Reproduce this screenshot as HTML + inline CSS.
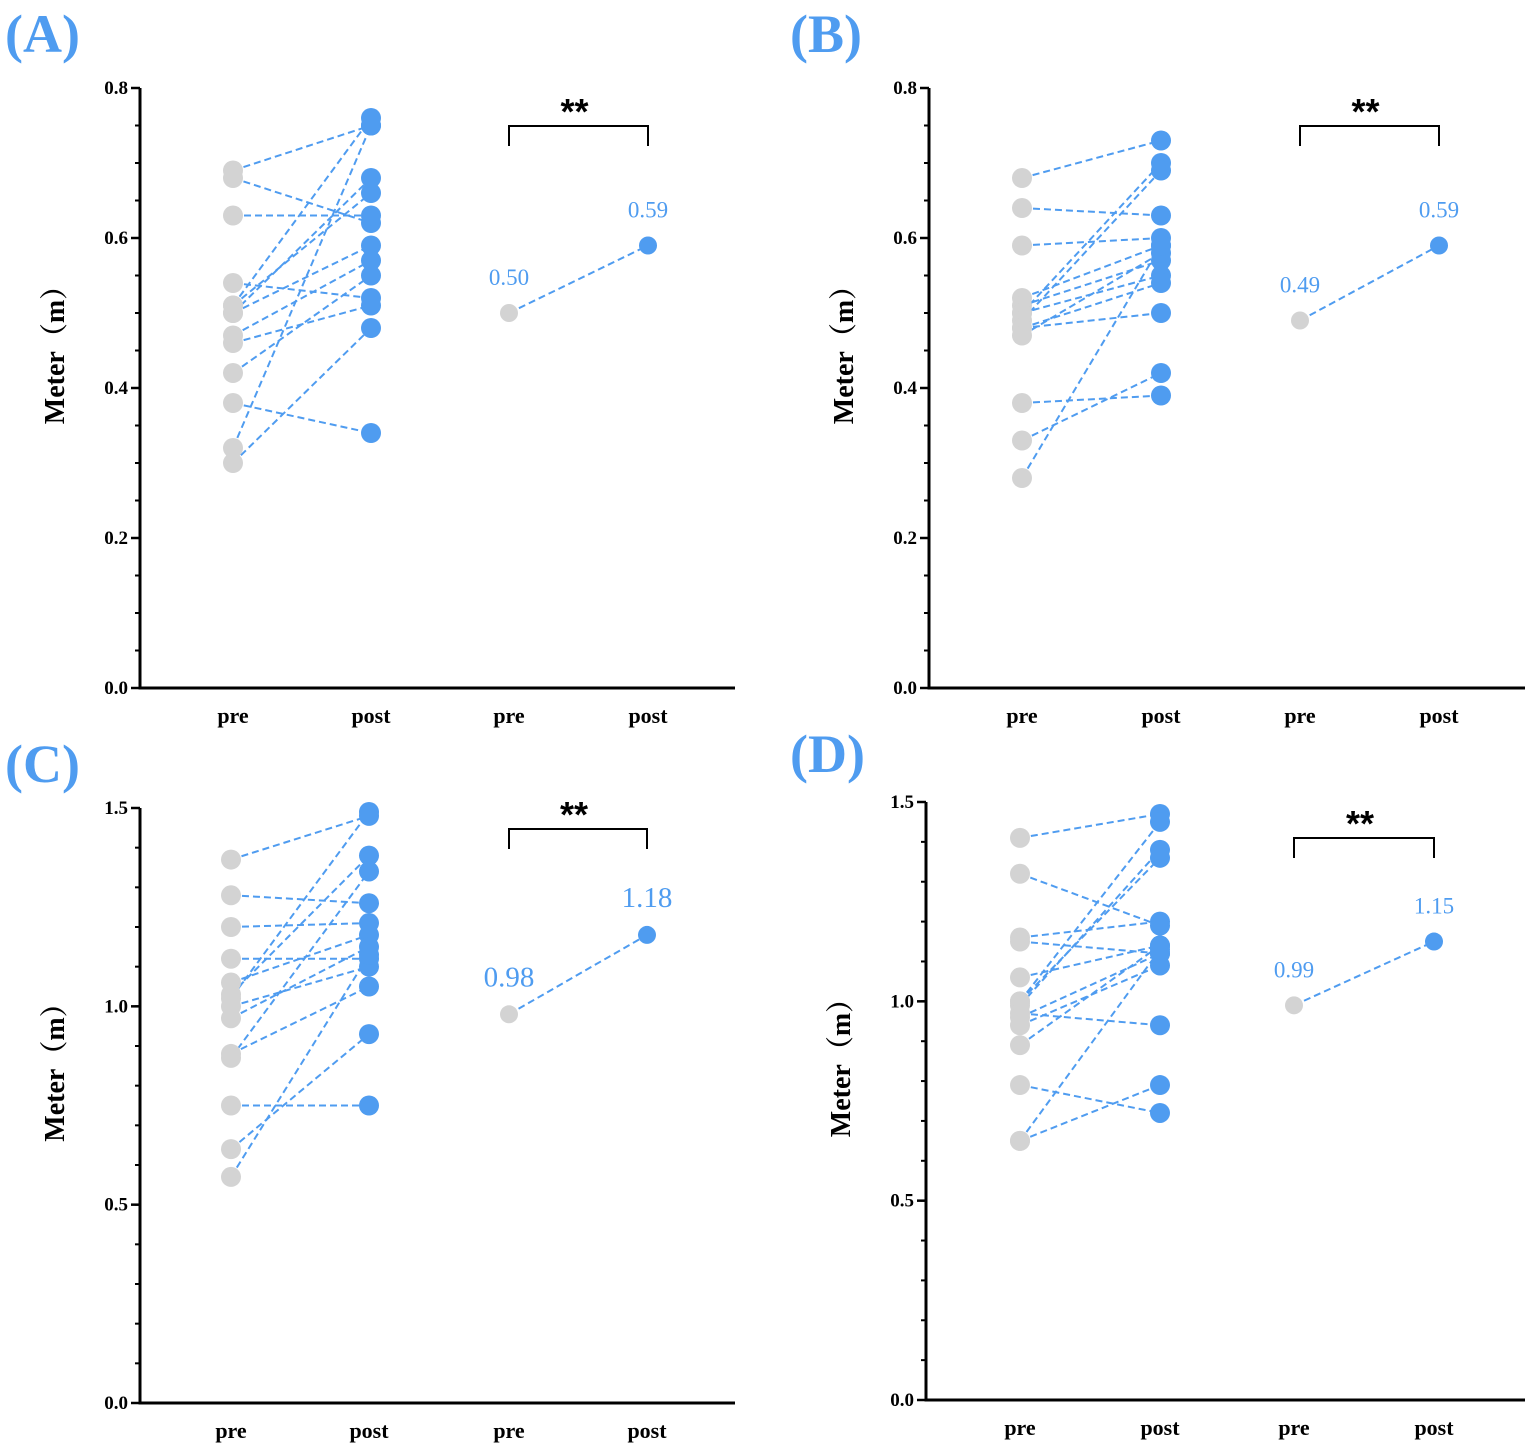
<!DOCTYPE html>
<html><head><meta charset="utf-8">
<style>
html,body{margin:0;padding:0;background:#fff;}
svg{display:block;}
</style></head>
<body>
<svg id="fig" width="1535" height="1450" viewBox="0 0 1535 1450" xmlns="http://www.w3.org/2000/svg"></svg>
<script>
// Panel A data
const preA  = [0.69,0.68,0.63,0.54,0.51,0.51,0.50,0.50,0.47,0.46,0.42,0.38,0.32,0.30];
const postA = [0.75,0.62,0.63,0.52,0.76,0.66,0.68,0.59,0.57,0.51,0.55,0.34,0.75,0.48];
const meanA = [0.50,0.59];
// Panel B data
const preB  = [0.68,0.64,0.59,0.52,0.51,0.50,0.50,0.49,0.48,0.48,0.47,0.38,0.33,0.28];
const postB = [0.73,0.63,0.60,0.59,0.57,0.70,0.55,0.69,0.54,0.50,0.58,0.39,0.42,0.59];
const meanB = [0.49,0.59];
// Panel C data
const preC  = [1.37,1.28,1.20,1.12,1.06,1.03,1.02,1.00,0.97,0.88,0.87,0.75,0.64,0.57];
const postC = [1.48,1.26,1.21,1.12,1.18,1.38,1.49,1.10,1.15,1.05,1.34,0.75,0.93,1.13];
const meanC = [0.98,1.18];
// Panel D data
const preD  = [1.41,1.32,1.16,1.15,1.06,1.00,1.00,0.99,0.97,0.96,0.94,0.89,0.79,0.65,0.65];
const postD = [1.47,1.19,1.20,1.12,1.14,1.45,1.36,1.38,0.94,1.12,1.09,1.14,0.72,0.79,1.13];
const meanD = [0.99,1.15];
const meanLabelsA = ["0.50","0.59"], meanLabelsB = ["0.49","0.59"], meanLabelsC = ["0.98","1.18"], meanLabelsD = ["0.99","1.15"];
const xCats = ["pre","post","pre","post"];
const ticksAB = [0.0,0.2,0.4,0.6,0.8];
const ticksCD = [0.0,0.5,1.0,1.5];

const NS="http://www.w3.org/2000/svg";
const svg=document.getElementById('fig');
const BLUE="#4f9cf0", GREY="#d3d3d3";
function mk(tag,attrs,parent){const e=document.createElementNS(NS,tag);for(const k in attrs)e.setAttribute(k,attrs[k]);(parent||svg).appendChild(e);return e;}

function panel(p){
  const g=mk('g',{});
  
  
  const y=v=>p.y0-(v/p.ymax)*(p.y0-p.ytop);
  const x=i=>p.xs[i];
  const lab=mk('text',{x:p.lx,y:p.ly,'font-family':'Liberation Serif, serif','font-weight':'bold','font-size':54,fill:BLUE},g);
  lab.textContent='('+p.id+')';
  
  
  const ax=mk('path',{d:`M${p.ax} ${p.ytop} V${p.y0} H${p.axEnd}`,stroke:'#000','stroke-width':3,fill:'none'},g);
  
  
  for(let v=0;v<=p.ymax+1e-9;v+=p.minor){
    const t=mk('line',{x1:p.ax-5,x2:p.ax,y1:y(v),y2:y(v),stroke:'#000','stroke-width':2},g);
    
    
  }
  p.ticks.forEach(v=>{
    const t=mk('line',{x1:p.ax-9,x2:p.ax,y1:y(v),y2:y(v),stroke:'#000','stroke-width':2.5},g);
    
    
    const tl=mk('text',{x:p.ax-12,y:y(v)+6,'text-anchor':'end','font-family':'Liberation Serif, serif','font-weight':'bold','font-size':19},g);
    tl.textContent=v.toFixed(1);
    
    
  });
  const yt=mk('text',{x:0,y:0,transform:`translate(${p.ax-76},${(p.y0+p.ytop)/2-40}) rotate(-90)`,'text-anchor':'middle','font-family':'Liberation Serif, Noto Serif CJK SC, serif','font-weight':'bold','font-size':28},g);
  yt.textContent='Meter（m）';
  
  
  xCats.forEach((c,i)=>{
    const t=mk('text',{x:x(i),y:p.y0+35,'text-anchor':'middle','font-family':'Liberation Serif, serif','font-weight':'bold','font-size':22},g);
    t.textContent=c;
    
    
  });
  p.pre.forEach((v,i)=>{
    const l=mk('line',{x1:x(0),y1:y(v),x2:x(1),y2:y(p.post[i]),stroke:BLUE,'stroke-width':2,'stroke-dasharray':'7,4'},g);
    
    
  });
  p.pre.forEach(v=>{
    const c=mk('circle',{cx:x(0),cy:y(v),r:10,fill:GREY},g);
    
    
  });
  p.post.forEach(v=>{
    const c=mk('circle',{cx:x(1),cy:y(v),r:10,fill:BLUE},g);
    
    
  });
  const ml=mk('line',{x1:x(2),y1:y(p.mean[0]),x2:x(3),y2:y(p.mean[1]),stroke:BLUE,'stroke-width':2,'stroke-dasharray':'7,4'},g);
  
  
  const mc0=mk('circle',{cx:x(2),cy:y(p.mean[0]),r:9,fill:GREY},g);
  
  
  const mc1=mk('circle',{cx:x(3),cy:y(p.mean[1]),r:9,fill:BLUE},g);
  
  
  [0,1].forEach(k=>{
    const t=mk('text',{x:x(2+k),y:y(p.mean[k])-28,'text-anchor':'middle','font-family':'Liberation Serif, serif','font-size':p.mfs,fill:BLUE},g);
    t.textContent=p.mlabels[k];
    
    
  });
  const br=mk('path',{d:`M${x(2)} ${p.by+20} V${p.by} H${x(3)} V${p.by+20}`,stroke:'#000','stroke-width':2,fill:'none'},g);
  
  
  const st=mk('text',{x:(x(2)+x(3))/2-4,y:p.by-2,'text-anchor':'middle','font-family':'Liberation Sans, sans-serif','font-weight':'bold','font-size':36},g);
  st.textContent='**';
  
  
}

panel({id:'A',lx:5,ly:52,ax:140,axEnd:735,y0:688,ytop:88,ymax:0.8,minor:0.05,ticks:ticksAB,xs:[233,371,509,648],pre:preA,post:postA,mean:meanA,mlabels:meanLabelsA,mfs:23,by:126});
panel({id:'B',lx:790,ly:52,ax:929,axEnd:1525,y0:688,ytop:88,ymax:0.8,minor:0.05,ticks:ticksAB,xs:[1022,1161,1300,1439],pre:preB,post:postB,mean:meanB,mlabels:meanLabelsB,mfs:23,by:126});
panel({id:'C',lx:5,ly:782,ax:140,axEnd:735,y0:1403,ytop:808,ymax:1.5,minor:0.1,ticks:ticksCD,xs:[231,369,509,647],pre:preC,post:postC,mean:meanC,mlabels:meanLabelsC,mfs:29,by:829});
panel({id:'D',lx:790,ly:772,ax:926,axEnd:1525,y0:1400,ytop:802,ymax:1.5,minor:0.1,ticks:ticksCD,xs:[1020,1160,1294,1434],pre:preD,post:postD,mean:meanD,mlabels:meanLabelsD,mfs:23,by:838});
</script>
</body></html>
